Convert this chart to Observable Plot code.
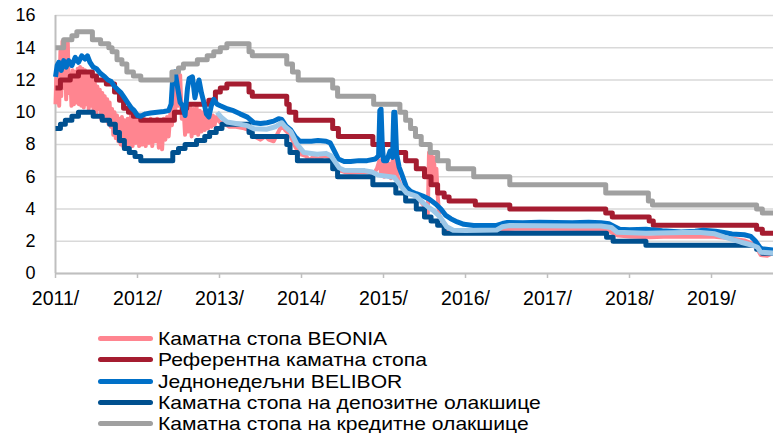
<!DOCTYPE html>
<html><head><meta charset="utf-8">
<script src="https://cdn.jsdelivr.net/npm/d3@7"></script>
<script src="https://cdn.jsdelivr.net/npm/@observablehq/plot@0.6"></script>
<style>
body{margin:0;background:#fff;font-family:"Liberation Sans",Arial,sans-serif;}
#legend{position:absolute;left:98px;top:328px;font-size:19px;line-height:21.25px;color:#000;}
.row{display:flex;align-items:center;height:21.25px;white-space:nowrap;}
.sw{width:55px;height:5px;border-radius:3px;margin-right:5px;flex:none;}
.row span{display:inline-block;transform:scaleX(1.11);transform-origin:left center;}
</style></head><body>
<div id="chart"></div>
<div id="legend"></div>
<script>
const yTicks = [0,2,4,6,8,10,12,14,16];
const xTicks = [2011,2012,2013,2014,2015,2016,2017,2018,2019];
const seriesNames = ["Каматна стопа BEONIA","Референтна каматна стопа","Једнонедељни BELIBOR","Каматна стопа на депозитне олакшице","Каматна стопа на кредитне олакшице"];
const seriesColors = ["#FF8590","#A51C30","#0070C8","#00508F","#A0A0A0"];
const extraColor = "#9DC8E8";

const credit = [[2011.0,14.0],[2011.10,14.5],[2011.2,14.75],[2011.26,15.0],[2011.45,14.5],[2011.55,14.25],[2011.65,14.0],[2011.69,13.75],[2011.75,13.25],[2011.81,13.0],[2011.87,12.5],[2011.95,12.25],[2012.04,12.0],[2012.42,12.5],[2012.5,12.75],[2012.56,13.0],[2012.73,13.25],[2012.85,13.5],[2012.93,13.75],[2013.01,14.0],[2013.09,14.25],[2013.36,13.75],[2013.40,13.5],[2013.82,13.0],[2013.89,12.5],[2013.96,12.0],[2014.38,11.5],[2014.44,11.0],[2014.88,10.5],[2015.2,10.0],[2015.27,9.5],[2015.33,9.0],[2015.39,8.5],[2015.46,8.0],[2015.57,7.5],[2015.66,7.0],[2015.79,6.5],[2016.1,6.0],[2016.54,5.5],[2017.71,5.0],[2018.23,4.5],[2018.28,4.25],[2019.55,4.0],[2019.62,3.75],[2019.76,3.75]];

const refRate = [[2011.0,11.5],[2011.06,12.0],[2011.18,12.25],[2011.28,12.5],[2011.45,12.25],[2011.5,12.0],[2011.62,11.75],[2011.72,11.25],[2011.78,10.75],[2011.83,10.25],[2011.89,10.0],[2011.95,9.75],[2012.04,9.5],[2012.45,10.0],[2012.55,10.25],[2012.6,10.5],[2012.87,10.75],[2012.95,11.25],[2013.01,11.5],[2013.09,11.75],[2013.36,11.25],[2013.40,11.0],[2013.82,10.5],[2013.85,10.0],[2013.93,9.5],[2014.38,9.0],[2014.45,8.5],[2014.87,8.0],[2015.14,7.5],[2015.27,7.0],[2015.4,6.5],[2015.5,6.0],[2015.58,5.5],[2015.66,5.0],[2015.74,4.75],[2015.8,4.5],[2016.12,4.25],[2016.54,4.0],[2017.71,3.75],[2017.79,3.5],[2018.24,3.25],[2018.29,3.0],[2019.55,2.75],[2019.62,2.5],[2019.76,2.5]];

const deposit = [[2011.0,9.0],[2011.06,9.25],[2011.12,9.5],[2011.2,9.75],[2011.28,10.0],[2011.46,9.75],[2011.57,9.5],[2011.66,9.25],[2011.73,8.75],[2011.78,8.25],[2011.84,7.75],[2011.9,7.5],[2011.97,7.25],[2012.04,7.0],[2012.43,7.5],[2012.5,7.75],[2012.58,8.0],[2012.72,8.25],[2012.82,8.5],[2012.88,8.75],[2012.96,9.0],[2013.03,9.25],[2013.36,8.75],[2013.40,8.5],[2013.82,8.0],[2013.86,7.5],[2013.95,7.0],[2014.38,6.5],[2014.44,6.0],[2014.87,5.5],[2015.15,5.0],[2015.27,4.5],[2015.4,4.0],[2015.5,3.5],[2015.58,3.25],[2015.66,3.0],[2015.74,2.5],[2017.72,2.25],[2017.8,2.0],[2018.2,1.75],[2019.55,1.5],[2019.62,1.25],[2019.76,1.25]];

const belibor = [[2011.0,12.2],[2011.02,12.9],[2011.04,13.1],[2011.07,12.6],[2011.1,13.2],[2011.13,12.8],[2011.16,13.2],[2011.2,12.9],[2011.24,13.4],[2011.28,13.1],[2011.32,13.5],[2011.36,13.3],[2011.39,13.5],[2011.42,13.1],[2011.46,12.8],[2011.5,12.7],[2011.55,12.4],[2011.6,12.2],[2011.64,12.0],[2011.68,11.9],[2011.72,11.6],[2011.76,11.4],[2011.8,11.2],[2011.84,10.9],[2011.88,10.6],[2011.92,10.3],[2011.96,10.1],[2012.0,9.8],[2012.04,9.75],[2012.1,9.9],[2012.16,9.95],[2012.24,10.0],[2012.32,10.05],[2012.38,10.1],[2012.41,10.5],[2012.43,12.2],[2012.46,12.5],[2012.49,11.5],[2012.52,10.6],[2012.55,10.4],[2012.58,9.8],[2012.61,11.5],[2012.63,12.1],[2012.67,12.2],[2012.7,10.9],[2012.72,11.4],[2012.75,12.0],[2012.78,11.2],[2012.81,10.6],[2012.84,9.9],[2012.87,9.7],[2012.9,10.4],[2012.93,10.8],[2012.97,10.5],[2013.01,10.4],[2013.1,10.2],[2013.17,10.1],[2013.25,9.9],[2013.34,9.7],[2013.42,9.35],[2013.5,9.3],[2013.58,9.35],[2013.66,9.45],[2013.72,9.6],[2013.76,9.55],[2013.81,9.15],[2013.87,8.9],[2013.92,8.5],[2013.98,8.2],[2014.05,8.2],[2014.12,8.2],[2014.2,8.25],[2014.3,8.2],[2014.35,8.1],[2014.4,7.6],[2014.45,7.1],[2014.52,6.95],[2014.6,6.95],[2014.7,7.0],[2014.8,7.0],[2014.9,7.1],[2014.94,7.3],[2014.955,10.1],[2014.97,10.2],[2014.985,8.0],[2015.0,7.0],[2015.04,7.0],[2015.08,7.6],[2015.11,7.2],[2015.125,10.0],[2015.14,10.0],[2015.16,7.4],[2015.19,6.6],[2015.22,6.2],[2015.28,5.35],[2015.33,5.1],[2015.4,4.95],[2015.48,4.8],[2015.56,4.6],[2015.64,4.3],[2015.7,4.0],[2015.76,3.6],[2015.82,3.4],[2015.9,3.2],[2015.98,3.05],[2016.1,2.98],[2016.2,2.97],[2016.38,2.98],[2016.45,3.1],[2016.51,3.17],[2016.7,3.15],[2016.9,3.18],[2017.1,3.17],[2017.3,3.15],[2017.5,3.18],[2017.65,3.15],[2017.75,3.08],[2017.82,2.9],[2017.88,2.75],[2018.0,2.72],[2018.2,2.75],[2018.4,2.65],[2018.63,2.58],[2018.8,2.62],[2018.9,2.68],[2019.05,2.62],[2019.15,2.55],[2019.25,2.45],[2019.4,2.4],[2019.48,2.3],[2019.53,2.05],[2019.6,1.55],[2019.76,1.45]];

const lightBlue = [[2012.97,10.0],[2013.02,9.7],[2013.09,9.4],[2013.2,9.3],[2013.34,9.17],[2013.42,8.97],[2013.58,8.95],[2013.68,9.1],[2013.76,9.35],[2013.8,9.1],[2013.87,8.8],[2013.94,8.05],[2014.03,7.5],[2014.19,7.4],[2014.3,7.45],[2014.36,7.3],[2014.4,7.0],[2014.46,6.55],[2014.52,6.4],[2014.77,6.38],[2014.86,6.3],[2014.94,6.1],[2015.13,5.97],[2015.2,5.5],[2015.28,5.0],[2015.4,4.8],[2015.49,4.35],[2015.55,4.1],[2015.61,3.9],[2015.69,3.5],[2015.77,2.9],[2015.85,2.68],[2016.0,2.67],[2016.38,2.7],[2016.45,2.9],[2016.54,2.98],[2016.9,2.96],[2017.3,2.95],[2017.65,2.95],[2017.78,2.85],[2017.85,2.56],[2018.2,2.5],[2018.5,2.52],[2018.83,2.56],[2019.04,2.46],[2019.16,2.25],[2019.36,1.94],[2019.5,1.75],[2019.56,1.63],[2019.6,1.32],[2019.76,1.26]];

const beonia = [[2011.00,10.5],[2011.01,12.3],[2011.02,10.6],[2011.03,12.0],[2011.045,10.4],[2011.06,13.8],[2011.07,11.0],[2011.085,14.4],[2011.10,11.5],[2011.115,14.5],[2011.13,10.8],[2011.15,14.3],[2011.165,11.2],[2011.18,12.4],[2011.195,10.4],[2011.21,12.6],[2011.225,10.5],[2011.24,12.5],[2011.255,10.6],[2011.27,12.7],[2011.285,10.5],[2011.30,12.8],[2011.315,10.4],[2011.33,12.7],[2011.345,10.3],[2011.36,12.6],[2011.375,10.5],[2011.39,12.5],[2011.405,10.2],[2011.42,12.3],[2011.435,10.4],[2011.45,12.0],[2011.465,10.1],[2011.48,11.8],[2011.495,9.9],[2011.51,11.6],[2011.525,10.2],[2011.54,11.4],[2011.555,9.6],[2011.57,11.2],[2011.585,9.5],[2011.60,11.0],[2011.615,9.7],[2011.63,10.8],[2011.645,9.3],[2011.66,10.6],[2011.675,9.1],[2011.69,10.2],[2011.705,8.6],[2011.72,10.0],[2011.735,8.4],[2011.75,9.8],[2011.765,8.2],[2011.78,9.6],[2011.795,8.0],[2011.81,9.7],[2011.825,7.9],[2011.84,9.5],[2011.86,7.8],[2011.88,9.6],[2011.90,8.0],[2011.92,9.8],[2011.94,7.9],[2011.96,9.6],[2011.98,8.1],[2012.00,9.7],[2012.02,7.9],[2012.04,9.5],[2012.06,8.0],[2012.08,9.6],[2012.10,7.9],[2012.12,9.4],[2012.14,8.1],[2012.16,9.6],[2012.18,7.9],[2012.20,9.5],[2012.22,8.2],[2012.24,9.6],[2012.26,7.8],[2012.28,9.5],[2012.30,7.7],[2012.32,9.6],[2012.34,8.3],[2012.36,9.7],[2012.38,8.5],[2012.40,9.9],[2012.42,9.2],[2012.44,11.5],[2012.46,10.0],[2012.48,12.5],[2012.50,10.4],[2012.52,12.3],[2012.54,9.6],[2012.56,10.4],[2012.58,8.6],[2012.60,10.3],[2012.62,8.8],[2012.64,10.5],[2012.66,8.5],[2012.68,10.2],[2012.70,8.7],[2012.72,10.4],[2012.74,8.6],[2012.76,10.1],[2012.78,8.8],[2012.80,10.0],[2012.82,8.9],[2012.84,9.8],[2012.86,9.0],[2012.88,9.7],[2012.90,9.1],[2012.92,9.8],[2012.94,9.2],[2012.96,9.7],[2013.00,9.4],[2013.06,9.3],[2013.12,9.1],[2013.2,9.1],[2013.3,9.0],[2013.36,8.9],[2013.4,8.6],[2013.46,8.4],[2013.5,8.3],[2013.56,8.5],[2013.6,8.3],[2013.66,8.2],[2013.7,8.6],[2013.76,9.2],[2013.8,8.9],[2013.86,8.6],[2013.92,7.9],[2013.98,7.4],[2014.05,7.3],[2014.1,7.0],[2014.15,7.3],[2014.2,7.1],[2014.28,7.3],[2014.35,7.2],[2014.4,6.8],[2014.46,6.4],[2014.52,6.3],[2014.6,6.25],[2014.7,6.3],[2014.8,6.3],[2014.88,6.2],[2014.92,6.5],[2014.95,7.0],[2014.97,6.2],[2014.99,7.3],[2015.01,6.0],[2015.03,7.2],[2015.05,6.1],[2015.07,6.8],[2015.09,5.9],[2015.11,7.0],[2015.13,6.2],[2015.15,7.5],[2015.17,6.0],[2015.2,5.6],[2015.25,5.2],[2015.3,5.0],[2015.36,4.9],[2015.42,4.7],[2015.48,4.3],[2015.52,3.9],[2015.54,3.7],[2015.555,7.5],[2015.57,6.5],[2015.585,7.3],[2015.60,6.0],[2015.615,7.2],[2015.63,5.5],[2015.645,6.5],[2015.66,4.9],[2015.68,3.6],[2015.72,3.2],[2015.76,2.8],[2015.8,2.65],[2016.0,2.6],[2016.3,2.62],[2016.42,2.65],[2016.48,2.75],[2016.6,2.78],[2017.0,2.78],[2017.4,2.76],[2017.7,2.76],[2017.8,2.5],[2017.86,2.35],[2018.0,2.3],[2018.25,2.25],[2018.5,2.3],[2018.8,2.28],[2019.0,2.3],[2019.2,2.2],[2019.4,2.05],[2019.5,1.85],[2019.56,1.5],[2019.6,1.15],[2019.68,1.1],[2019.76,1.3]];

const lineOpts = {x: d => d[0], y: d => d[1], strokeLinejoin: "round", strokeLinecap: "butt"};

const chart = Plot.plot({
  width: 773, height: 310,
  marginLeft: 55, marginRight: 0, marginTop: 15, marginBottom: 37,
  style: {fontFamily: "'Liberation Sans', Arial, sans-serif", fontSize: "18px", background: "#fff", overflow: "visible"},
  x: {domain: [2011, 2019.756]},
  y: {domain: [0, 16]},
  marks: [
    Plot.gridY(yTicks, {stroke: "#D9D9D9", strokeOpacity: 1, strokeWidth: 1.5}),
    Plot.ruleY([0], {stroke: "#BFBFBF", strokeWidth: 2}),
    Plot.ruleX([2011], {stroke: "#BFBFBF", strokeWidth: 2}),
    Plot.axisY(yTicks, {tickSize: 0, tickPadding: 20, fontSize: 18, label: null}),
    Plot.axisX(xTicks, {tickSize: 5, tickPadding: 13, fontSize: 19.5, stroke: "#BFBFBF", strokeWidth: 1.5, tickFormat: d => d + "/", label: null}),
    Plot.line(beonia, {...lineOpts, stroke: seriesColors[0], strokeWidth: 4}),
    Plot.line(refRate, {...lineOpts, curve: "step-after", stroke: seriesColors[1], strokeWidth: 5}),
    Plot.line(deposit, {...lineOpts, curve: "step-after", stroke: seriesColors[3], strokeWidth: 5}),
    Plot.line(belibor, {...lineOpts, stroke: seriesColors[2], strokeWidth: 5}),
    Plot.line(lightBlue, {...lineOpts, stroke: extraColor, strokeWidth: 5}),
    Plot.line(credit, {...lineOpts, curve: "step-after", stroke: seriesColors[4], strokeWidth: 5})
  ]
});
document.getElementById("chart").appendChild(chart);

const legend = document.getElementById("legend");
seriesNames.forEach((n, i) => {
  const r = document.createElement("div"); r.className = "row";
  r.innerHTML = `<div class="sw" style="background:${seriesColors[i]}"></div><span>${n}</span>`;
  legend.appendChild(r);
});
</script>
</body></html>
